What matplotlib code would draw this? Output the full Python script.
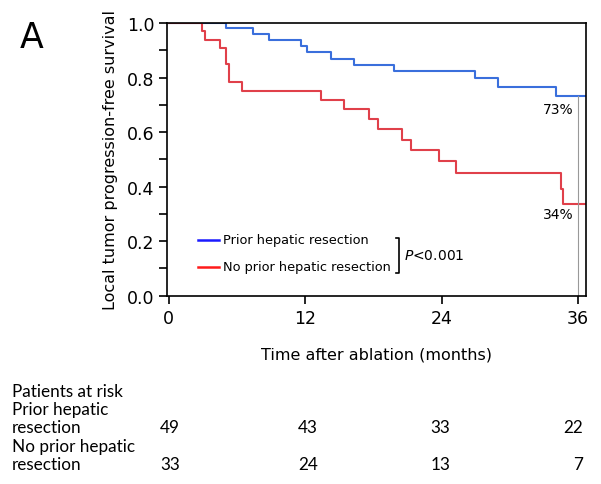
import matplotlib
matplotlib.use("Agg")
import matplotlib.pyplot as plt

# Kaplan-Meier steps (months, survival)
prior_times = [0, 5.07, 7.42, 8.8, 11.64, 12.17, 14.3, 16.3, 19.8, 26.9, 29.0, 34.1]
prior_surv = [1.0, 0.980, 0.959, 0.937, 0.915, 0.893, 0.869, 0.847, 0.824, 0.797, 0.766, 0.733]
noprior_times = [0, 2.93, 3.17, 4.49, 5.07, 5.28, 6.42, 13.4, 15.4, 17.6, 18.4, 20.5,
                 21.3, 23.8, 25.3, 34.5, 34.7]
noprior_surv = [1.0, 0.970, 0.939, 0.907, 0.848, 0.782, 0.752, 0.719, 0.685, 0.648, 0.611,
                0.572, 0.535, 0.493, 0.450, 0.391, 0.336]
end_time = 36.7

x_ticks = [0, 12, 24, 36]
risk_prior = [49, 43, 33, 22]
risk_noprior = [33, 24, 13, 7]
final_labels = ["73%", "34%"]

fig = plt.figure(figsize=(6.01, 4.85), dpi=100)
ax = fig.add_axes([0.2787, 0.3882, 0.975 - 0.2787, 0.9505 - 0.3882])

ax.step(prior_times + [end_time], prior_surv + [prior_surv[-1]], where="post",
        color="#3a6fdc", lw=1.5)
ax.step(noprior_times + [end_time], noprior_surv + [noprior_surv[-1]], where="post",
        color="#e0404a", lw=1.5)

# vertical reference line at 36 months
ax.plot([36, 36], [0, prior_surv[-1]], color="#999999", lw=0.8)
ax.text(35.6, prior_surv[-1] - 0.022, final_labels[0], ha="right", va="top", fontsize=10)
ax.text(35.6, noprior_surv[-1] - 0.012, final_labels[1], ha="right", va="top", fontsize=10)

ax.set_xlim(-0.1, end_time)
ax.set_ylim(0, 1.0)
ax.set_xticks(x_ticks)
ax.set_yticks([0, 0.2, 0.4, 0.6, 0.8, 1.0])
ax.set_yticklabels(["0.0", "0.2", "0.4", "0.6", "0.8", "1.0"])
ax.set_yticks([0.1, 0.3, 0.5, 0.7, 0.9], minor=True)
ax.tick_params(axis="both", which="major", direction="out", length=6, width=1.2,
               labelsize=12.5)
ax.tick_params(axis="y", which="minor", direction="out", length=6, width=1.2)
for sp in ax.spines.values():
    sp.set_linewidth(1.2)

ax.set_xlabel("Time after ablation (months)", fontsize=11.5, labelpad=14)
ax.set_ylabel("Local tumor progression-free survival", fontsize=11.5, labelpad=6)

# legend drawn by hand to mimic the original
ax.plot([2.6, 4.4], [0.206, 0.206], color="#1a1aff", lw=1.8)
ax.plot([2.6, 4.4], [0.106, 0.106], color="#ff1a1a", lw=1.8)
ax.text(4.75, 0.206, "Prior hepatic resection", va="center", fontsize=9.3)
ax.text(4.75, 0.106, "No prior hepatic resection", va="center", fontsize=9.3)
ax.plot([20.0, 20.3, 20.3, 20.0], [0.21, 0.21, 0.085, 0.085], color="black", lw=1.2)
ax.text(20.7, 0.148, "$\\mathit{P}$<0.001", va="center", fontsize=10)

fig.text(0.033, 0.9, "A", fontsize=25)

# risk table
tfont = dict(fontsize=12.3, family="Lato")
rows_y = [392, 410, 428, 447, 465]
labels = ["Patients at risk", "Prior hepatic", "resection", "No prior hepatic", "resection"]
for yp, lab in zip(rows_y, labels):
    fig.text(12 / 601, 1 - yp / 485, lab, va="center", **tfont)
risk_right = [180, 318, 450, 583]
for xp, a, b in zip(risk_right, risk_prior, risk_noprior):
    fig.text(xp / 601, 1 - 428 / 485, str(a), ha="right", va="center", **tfont)
    fig.text(xp / 601, 1 - 465 / 485, str(b), ha="right", va="center", **tfont)

fig.savefig("out.png", dpi=100)
